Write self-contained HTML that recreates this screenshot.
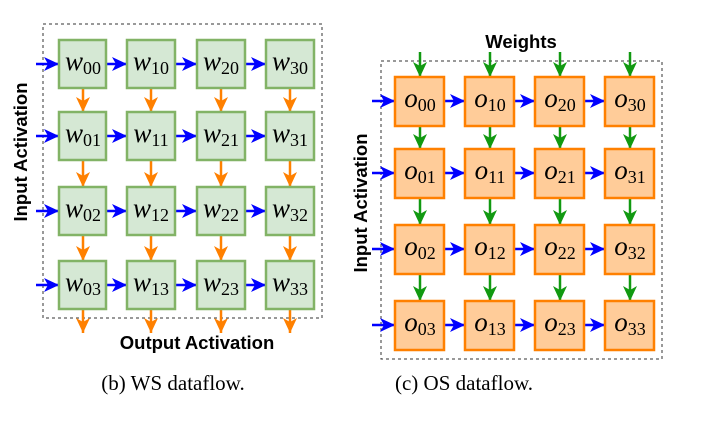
<!DOCTYPE html>
<html><head><meta charset="utf-8"><style>body{margin:0;background:#fff}svg{display:block}</style></head><body>
<svg width="706" height="422" viewBox="0 0 706 422" xmlns="http://www.w3.org/2000/svg">
<defs>
<marker id="ab" markerUnits="userSpaceOnUse" markerWidth="16" markerHeight="14" refX="15" refY="7" orient="auto"><path d="M0,0 L15,7 L0,14 L4,7 Z" fill="#0000ff"/></marker>
<marker id="ao" markerUnits="userSpaceOnUse" markerWidth="16" markerHeight="14" refX="15" refY="7" orient="auto"><path d="M0,0 L15,7 L0,14 L4,7 Z" fill="#ff8000"/></marker>
<marker id="ag" markerUnits="userSpaceOnUse" markerWidth="16" markerHeight="14" refX="15" refY="7" orient="auto"><path d="M0,0 L15,7 L0,14 L4,7 Z" fill="#119911"/></marker>
</defs>
<g fill="none" stroke-dasharray="3,3" stroke="#333" stroke-width="1">
<rect x="43" y="24" width="279" height="294"/>
<rect x="381" y="61" width="281" height="298"/>
</g>
<g stroke="#0000ff" stroke-width="2.5" marker-end="url(#ab)">
<line x1="36" y1="64" x2="59" y2="64"/><line x1="106" y1="64" x2="127" y2="64"/><line x1="175" y1="64" x2="197" y2="64"/><line x1="245" y1="64" x2="266" y2="64"/>
<line x1="36" y1="136" x2="59" y2="136"/><line x1="106" y1="136" x2="127" y2="136"/><line x1="175" y1="136" x2="197" y2="136"/><line x1="245" y1="136" x2="266" y2="136"/>
<line x1="36" y1="211" x2="59" y2="211"/><line x1="106" y1="211" x2="127" y2="211"/><line x1="175" y1="211" x2="197" y2="211"/><line x1="245" y1="211" x2="266" y2="211"/>
<line x1="36" y1="285" x2="59" y2="285"/><line x1="106" y1="285" x2="127" y2="285"/><line x1="175" y1="285" x2="197" y2="285"/><line x1="245" y1="285" x2="266" y2="285"/>
</g>
<g stroke="#ff8000" stroke-width="2.5" marker-end="url(#ao)">
<line x1="83" y1="88" x2="83" y2="112"/><line x1="151" y1="88" x2="151" y2="112"/><line x1="221" y1="88" x2="221" y2="112"/><line x1="290" y1="88" x2="290" y2="112"/>
<line x1="83" y1="160" x2="83" y2="187"/><line x1="151" y1="160" x2="151" y2="187"/><line x1="221" y1="160" x2="221" y2="187"/><line x1="290" y1="160" x2="290" y2="187"/>
<line x1="83" y1="235" x2="83" y2="261"/><line x1="151" y1="235" x2="151" y2="261"/><line x1="221" y1="235" x2="221" y2="261"/><line x1="290" y1="235" x2="290" y2="261"/>
<line x1="83" y1="309" x2="83" y2="333"/><line x1="151" y1="309" x2="151" y2="333"/><line x1="221" y1="309" x2="221" y2="333"/><line x1="290" y1="309" x2="290" y2="333"/>
</g>
<g fill="#d5e8d4" stroke="#82b366" stroke-width="2.5">
<rect x="59" y="40" width="47" height="48"/><rect x="127" y="40" width="48" height="48"/><rect x="197" y="40" width="48" height="48"/><rect x="266" y="40" width="48" height="48"/>
<rect x="59" y="112" width="47" height="48"/><rect x="127" y="112" width="48" height="48"/><rect x="197" y="112" width="48" height="48"/><rect x="266" y="112" width="48" height="48"/>
<rect x="59" y="187" width="47" height="48"/><rect x="127" y="187" width="48" height="48"/><rect x="197" y="187" width="48" height="48"/><rect x="266" y="187" width="48" height="48"/>
<rect x="59" y="261" width="47" height="48"/><rect x="127" y="261" width="48" height="48"/><rect x="197" y="261" width="48" height="48"/><rect x="266" y="261" width="48" height="48"/>
</g>
<g font-family="Liberation Serif, serif" font-size="27" font-style="italic" text-anchor="middle" fill="#000">
<text x="83" y="70">w<tspan font-style="normal" font-size="18" dy="4">00</tspan></text>
<text x="151" y="70">w<tspan font-style="normal" font-size="18" dy="4">10</tspan></text>
<text x="221" y="70">w<tspan font-style="normal" font-size="18" dy="4">20</tspan></text>
<text x="290" y="70">w<tspan font-style="normal" font-size="18" dy="4">30</tspan></text>
<text x="83" y="142">w<tspan font-style="normal" font-size="18" dy="4">01</tspan></text>
<text x="151" y="142">w<tspan font-style="normal" font-size="18" dy="4">11</tspan></text>
<text x="221" y="142">w<tspan font-style="normal" font-size="18" dy="4">21</tspan></text>
<text x="290" y="142">w<tspan font-style="normal" font-size="18" dy="4">31</tspan></text>
<text x="83" y="217">w<tspan font-style="normal" font-size="18" dy="4">02</tspan></text>
<text x="151" y="217">w<tspan font-style="normal" font-size="18" dy="4">12</tspan></text>
<text x="221" y="217">w<tspan font-style="normal" font-size="18" dy="4">22</tspan></text>
<text x="290" y="217">w<tspan font-style="normal" font-size="18" dy="4">32</tspan></text>
<text x="83" y="291">w<tspan font-style="normal" font-size="18" dy="4">03</tspan></text>
<text x="151" y="291">w<tspan font-style="normal" font-size="18" dy="4">13</tspan></text>
<text x="221" y="291">w<tspan font-style="normal" font-size="18" dy="4">23</tspan></text>
<text x="290" y="291">w<tspan font-style="normal" font-size="18" dy="4">33</tspan></text>
</g>
<g stroke="#119911" stroke-width="2.5" marker-end="url(#ag)">
<line x1="420" y1="52" x2="420" y2="77"/><line x1="490" y1="52" x2="490" y2="77"/><line x1="560" y1="52" x2="560" y2="77"/><line x1="630" y1="52" x2="630" y2="77"/>
<line x1="420" y1="126" x2="420" y2="149"/><line x1="490" y1="126" x2="490" y2="149"/><line x1="560" y1="126" x2="560" y2="149"/><line x1="630" y1="126" x2="630" y2="149"/>
<line x1="420" y1="198" x2="420" y2="225"/><line x1="490" y1="198" x2="490" y2="225"/><line x1="560" y1="198" x2="560" y2="225"/><line x1="630" y1="198" x2="630" y2="225"/>
<line x1="420" y1="274" x2="420" y2="301"/><line x1="490" y1="274" x2="490" y2="301"/><line x1="560" y1="274" x2="560" y2="301"/><line x1="630" y1="274" x2="630" y2="301"/>
</g>
<g stroke="#0000ff" stroke-width="2.5" marker-end="url(#ab)">
<line x1="372" y1="101" x2="395" y2="101"/><line x1="444" y1="101" x2="465" y2="101"/><line x1="514" y1="101" x2="535" y2="101"/><line x1="584" y1="101" x2="605" y2="101"/>
<line x1="372" y1="173" x2="395" y2="173"/><line x1="444" y1="173" x2="465" y2="173"/><line x1="514" y1="173" x2="535" y2="173"/><line x1="584" y1="173" x2="605" y2="173"/>
<line x1="372" y1="249" x2="395" y2="249"/><line x1="444" y1="249" x2="465" y2="249"/><line x1="514" y1="249" x2="535" y2="249"/><line x1="584" y1="249" x2="605" y2="249"/>
<line x1="372" y1="325" x2="395" y2="325"/><line x1="444" y1="325" x2="465" y2="325"/><line x1="514" y1="325" x2="535" y2="325"/><line x1="584" y1="325" x2="605" y2="325"/>
</g>
<g fill="#ffcc99" stroke="#ff8000" stroke-width="2.5">
<rect x="395" y="77" width="49" height="49"/><rect x="465" y="77" width="49" height="49"/><rect x="535" y="77" width="49" height="49"/><rect x="605" y="77" width="49" height="49"/>
<rect x="395" y="149" width="49" height="49"/><rect x="465" y="149" width="49" height="49"/><rect x="535" y="149" width="49" height="49"/><rect x="605" y="149" width="49" height="49"/>
<rect x="395" y="225" width="49" height="49"/><rect x="465" y="225" width="49" height="49"/><rect x="535" y="225" width="49" height="49"/><rect x="605" y="225" width="49" height="49"/>
<rect x="395" y="301" width="49" height="49"/><rect x="465" y="301" width="49" height="49"/><rect x="535" y="301" width="49" height="49"/><rect x="605" y="301" width="49" height="49"/>
</g>
<g font-family="Liberation Serif, serif" font-size="27" font-style="italic" text-anchor="middle" fill="#000">
<text x="420" y="107">o<tspan font-style="normal" font-size="18" dy="4">00</tspan></text>
<text x="490" y="107">o<tspan font-style="normal" font-size="18" dy="4">10</tspan></text>
<text x="560" y="107">o<tspan font-style="normal" font-size="18" dy="4">20</tspan></text>
<text x="630" y="107">o<tspan font-style="normal" font-size="18" dy="4">30</tspan></text>
<text x="420" y="179">o<tspan font-style="normal" font-size="18" dy="4">01</tspan></text>
<text x="490" y="179">o<tspan font-style="normal" font-size="18" dy="4">11</tspan></text>
<text x="560" y="179">o<tspan font-style="normal" font-size="18" dy="4">21</tspan></text>
<text x="630" y="179">o<tspan font-style="normal" font-size="18" dy="4">31</tspan></text>
<text x="420" y="255">o<tspan font-style="normal" font-size="18" dy="4">02</tspan></text>
<text x="490" y="255">o<tspan font-style="normal" font-size="18" dy="4">12</tspan></text>
<text x="560" y="255">o<tspan font-style="normal" font-size="18" dy="4">22</tspan></text>
<text x="630" y="255">o<tspan font-style="normal" font-size="18" dy="4">32</tspan></text>
<text x="420" y="331">o<tspan font-style="normal" font-size="18" dy="4">03</tspan></text>
<text x="490" y="331">o<tspan font-style="normal" font-size="18" dy="4">13</tspan></text>
<text x="560" y="331">o<tspan font-style="normal" font-size="18" dy="4">23</tspan></text>
<text x="630" y="331">o<tspan font-style="normal" font-size="18" dy="4">33</tspan></text>
</g>
<g font-family="Liberation Sans, sans-serif" font-weight="bold" font-size="18.5" text-anchor="middle" fill="#000">
<text x="197" y="349">Output Activation</text>
<text x="521" y="48">Weights</text>
<text transform="translate(27,152) rotate(-90)">Input Activation</text>
<text transform="translate(367,203) rotate(-90)">Input Activation</text>
</g>
<g font-family="Liberation Serif, serif" font-size="21" text-anchor="middle" fill="#000">
<text x="173" y="390">(b) WS dataflow.</text>
<text x="464" y="390">(c) OS dataflow.</text>
</g>
</svg>
</body></html>
